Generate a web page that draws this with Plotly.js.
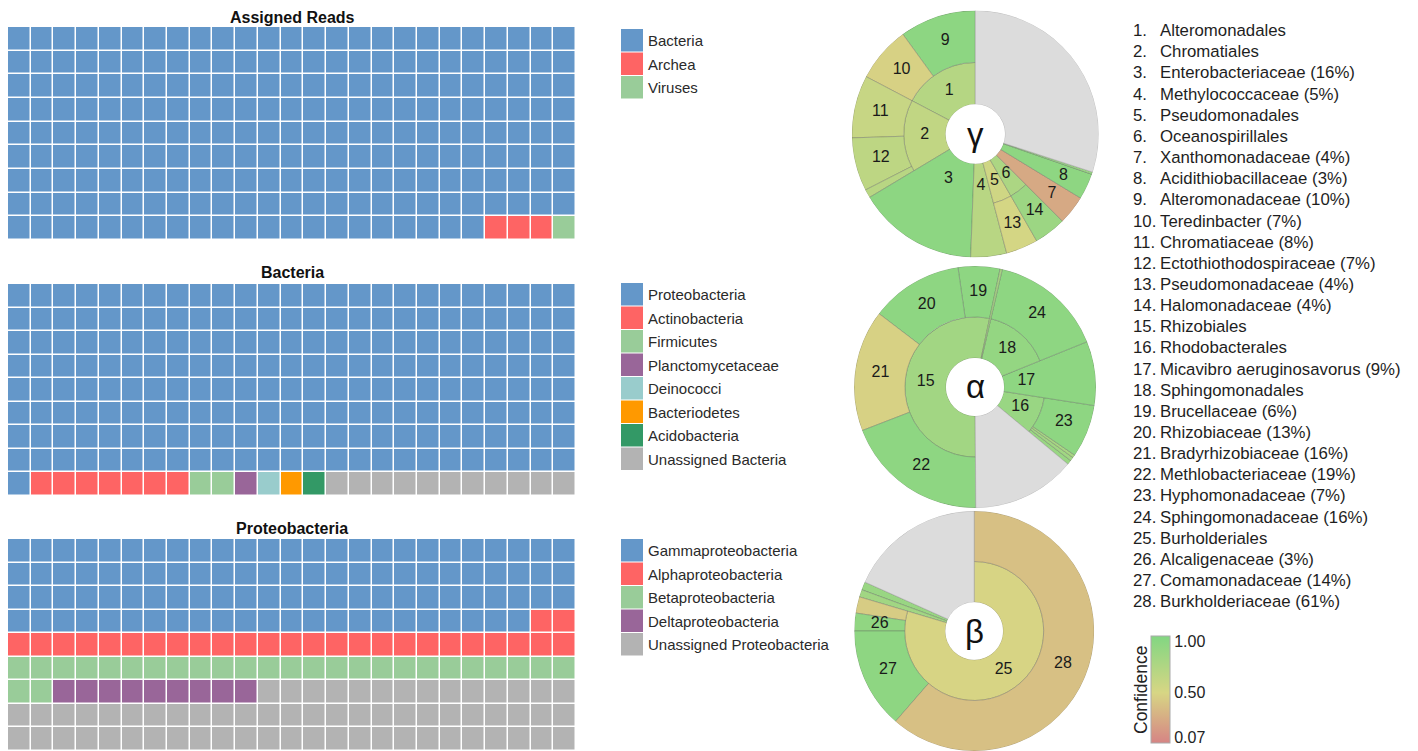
<!DOCTYPE html>
<html><head><meta charset="utf-8">
<script src="https://cdn.plot.ly/plotly-3.0.1.min.js"></script>
<style>html,body{margin:0;padding:0;background:#fff;overflow:hidden}#chart{width:1418px;height:751px}</style>
</head><body><div id="chart"></div>
<script>
// ---------------- DATA ----------------
const GRID_COLS = 25, GRID_ROWS = 9;

const readsCategories = ['Bacteria', 'Archea', 'Viruses'];
const readsCounts = [221, 3, 1];
const readsColors = ['#6497c9', '#fe6464', '#99cc99'];

const bacteriaCategories = ['Proteobacteria', 'Actinobacteria', 'Firmicutes', 'Planctomycetaceae', 'Deinococci', 'Bacteriodetes', 'Acidobacteria', 'Unassigned Bacteria'];
const bacteriaCounts = [201, 7, 2, 1, 1, 1, 1, 11];
const bacteriaColors = ['#6497c9', '#fe6464', '#99cc99', '#996699', '#99cccc', '#ff9900', '#339966', '#b3b3b3'];

const proteoCategories = ['Gammaproteobacteria', 'Alphaproteobacteria', 'Betaproteobacteria', 'Deltaproteobacteria', 'Unassigned Proteobacteria'];
const proteoCounts = [98, 27, 27, 9, 64];
const proteoColors = ['#6497c9', '#fe6464', '#99cc99', '#996699', '#b3b3b3'];

// Sunbursts (values in % of class, listed counter-clockwise)
const gammaLabels     = ['1', '9', '10', '2', '11', '12', '2-other', '3', '4', '5', '13', '6', '14', '7', '8', '8-other', 'Unassigned'];
const gammaParents    = ['', '1', '1', '', '2', '2', '2', '', '', '', '5', '', '6', '', '', '', ''];
const gammaValues     = [0, 10, 7.3, 0, 8.2, 7.0, 1.1, 15.8, 4.7, 0, 4.2, 0, 4.2, 3.8, 3.4, 0.3, 30];
const gammaConfidence = [0.72, 0.98, 0.47, 0.64, 0.6, 0.67, 0.7, 0.98, 0.7, 0.55, 0.52, 0.78, 0.88, 0.23, 0.97, 0.9, null];

const alphaLabels     = ['15', '19', '20', '21', '22', 'Unassigned', '16', '16-a', '16-b', '16-c', '23', '17', '18', '24', '18-other'];
const alphaParents    = ['', '15', '15', '15', '15', '', '', '16', '16', '16', '16', '', '', '18', ''];
const alphaValues     = [0, 5.6, 12.4, 16.3, 19.3, 13.9, 0, 0.6, 0.5, 0.4, 7.1, 8.6, 0, 15.3, 0.3];
const alphaConfidence = [0.84, 0.97, 0.97, 0.47, 0.97, null, 0.9, 0.9, 0.85, 0.8, 0.97, 0.97, 0.93, 0.97, 0.8];

const betaLabels     = ['Unassigned', 'b-1', 'b-2', '25', '25-other', '26', '27', '28'];
const betaParents    = ['', '', '', '', '25', '25', '25', '25'];
const betaValues     = [18.3, 1.1, 1.0, 0, 2.2, 2.4, 13.6, 61.4];
const betaConfidence = [null, 0.9, 0.85, 0.49, 0.44, 0.95, 0.97, 0.37];

const listNames = ['Alteromonadales', 'Chromatiales', 'Enterobacteriaceae (16%)', 'Methylococcaceae (5%)', 'Pseudomonadales',
  'Oceanospirillales', 'Xanthomonadaceae (4%)', 'Acidithiobacillaceae (3%)', 'Alteromonadaceae (10%)', 'Teredinbacter (7%)',
  'Chromatiaceae (8%)', 'Ectothiothodospiraceae (7%)', 'Pseudomonadaceae (4%)', 'Halomonadaceae (4%)', 'Rhizobiales',
  'Rhodobacterales', 'Micavibro aeruginosavorus (9%)', 'Sphingomonadales', 'Brucellaceae (6%)', 'Rhizobiaceae (13%)',
  'Bradyrhizobiaceae (16%)', 'Methlobacteriaceae (19%)', 'Hyphomonadaceae (7%)', 'Sphingomonadaceae (16%)', 'Burholderiales',
  'Alcaligenaceae (3%)', 'Comamonadaceae (14%)', 'Burkholderiaceae (61%)'];

const confTicks = [0.07, 0.5, 1.0];
const confTickText = ['0.07', '0.50', '1.00'];

// ---------------- LAYOUT HELPERS ----------------
const W = 1418, H = 751;
const FONT = 'Liberation Sans, Arial, Helvetica, sans-serif';
const px = x => x / W;
const py = y => 1 - y / H;
const clamp = v => Math.max(0, Math.min(1, v));

const traces = [];
const annotations = [];
const shapes = [];
const layout = {
  width: W, height: H, margin: {l: 0, r: 0, t: 0, b: 0},
  paper_bgcolor: '#fff', plot_bgcolor: '#fff', showlegend: false,
  font: {family: FONT, color: '#222'}
};

// ---------- Waffle charts ----------
function waffleZ(counts) {
  const z = []; let cat = 0, used = 0;
  for (let r = 0; r < GRID_ROWS; r++) {
    const row = [];
    for (let c = 0; c < GRID_COLS; c++) {
      while (cat < counts.length - 1 && used >= counts[cat]) { cat++; used = 0; }
      row.push(cat); used++;
    }
    z.push(row);
  }
  return z;
}
const waffles = [
  {title: 'Assigned Reads', cats: readsCategories, counts: readsCounts, colors: readsColors, top: 27, bottom: 240, titleY: 18, legTop: 29},
  {title: 'Bacteria', cats: bacteriaCategories, counts: bacteriaCounts, colors: bacteriaColors, top: 284, bottom: 496, titleY: 272, legTop: 283},
  {title: 'Proteobacteria', cats: proteoCategories, counts: proteoCounts, colors: proteoColors, top: 539, bottom: 751, titleY: 528, legTop: 539}
];
waffles.forEach((w, i) => {
  const sfx = i === 0 ? '' : String(i + 1);
  const n = w.colors.length;
  const cs = w.colors.map((c, k) => [k / (n - 1), c]);
  traces.push({
    type: 'heatmap', z: waffleZ(w.counts), xaxis: 'x' + sfx, yaxis: 'y' + sfx,
    zmin: 0, zmax: n - 1, colorscale: cs, showscale: false, xgap: 1.5, ygap: 1.5, hoverinfo: 'skip'
  });
  layout['xaxis' + sfx] = {domain: [px(8), px(576)], range: [-0.5, GRID_COLS - 0.5], visible: false, fixedrange: true};
  layout['yaxis' + sfx] = {domain: [clamp(py(w.bottom)), clamp(py(w.top))], range: [GRID_ROWS - 0.5, -0.5], visible: false, fixedrange: true};
  annotations.push({text: '<b>' + w.title + '</b>', x: px(292), y: py(w.titleY), xref: 'paper', yref: 'paper',
    xanchor: 'center', yanchor: 'middle', showarrow: false, font: {size: 16, color: '#111', family: FONT}});
  // legend swatches
  const itemH = 23.5;
  w.cats.forEach((c, k) => {
    const y0 = w.legTop + k * itemH;
    shapes.push({type: 'rect', xref: 'paper', yref: 'paper', x0: px(621), x1: px(643), y0: py(y0 + itemH - 1), y1: py(y0),
      fillcolor: w.colors[k], line: {width: 0}});
    annotations.push({text: c, x: px(646), y: py(y0 + itemH / 2), xref: 'paper', yref: 'paper', xanchor: 'left', yanchor: 'middle',
      showarrow: false, font: {size: 15, color: '#2a2a2a', family: FONT}});
  });
});

// ---------- Sunbursts (barpolar rings) ----------
const CMIN = 0.012, CMAX = 1.048;
const norm = v => (v - CMIN) / (CMAX - CMIN);
layout.coloraxis = {
  cmin: CMIN, cmax: CMAX,
  colorscale: [[0, 'rgb(214,132,132)'], [norm(0.5), 'rgb(215,214,132)'], [1, 'rgb(130,214,130)']],
  colorbar: {
    x: px(1151), xanchor: 'left', y: py(689.5), yanchor: 'middle', len: 107, lenmode: 'pixels',
    thickness: 19, thicknessmode: 'pixels', xpad: 0, ypad: 0, outlinewidth: 1, outlinecolor: '#aaa',
    tickvals: confTicks, ticktext: confTickText, ticks: '', tickfont: {size: 16, color: '#222', family: FONT}
  }
};
const INNER = 1, R_MAX = 2.24, HOLE = 0.24;
const LINE = {color: 'rgba(90,90,90,0.45)', width: 0.7};

function ring(labels, parents, values, conf, polarId) {
  const total = {};
  labels.forEach((l, i) => { total[l] = values[i]; });
  labels.forEach((l, i) => { if (parents[i]) total[parents[i]] += values[i]; });
  let grand = 0;
  labels.forEach((l, i) => { if (!parents[i]) grand += total[l]; });
  const k = 360 / grand;
  const col = {theta: [], width: [], r: [], base: [], c: [], name: []};
  const gray = {theta: [], width: [], r: [], base: []};
  const lab = {theta: [], r: [], text: []};
  const childCursor = {};
  let cursor = 0;
  labels.forEach((l, i) => {
    const hasKids = parents.some(p => p === l);
    let start, wdt, base, r;
    if (!parents[i]) {
      start = cursor; wdt = total[l] * k; cursor += wdt; childCursor[l] = start;
      base = 0; r = hasKids ? INNER : R_MAX;
    } else {
      start = childCursor[parents[i]]; wdt = total[l] * k; childCursor[parents[i]] += wdt;
      base = INNER; r = R_MAX - INNER;
    }
    const mid = start + wdt / 2;
    if (conf[i] === null) {
      gray.theta.push(mid); gray.width.push(wdt); gray.r.push(r); gray.base.push(base);
    } else {
      col.theta.push(mid); col.width.push(wdt); col.r.push(r); col.base.push(base); col.c.push(conf[i]); col.name.push(l);
    }
    if (/^\d+$/.test(l)) {
      let lr;
      if (parents[i]) lr = INNER + (R_MAX - INNER) / 2;
      else if (hasKids) lr = INNER / 2;
      else lr = values[i] >= 4.5 ? 0.55 : INNER + (R_MAX - INNER) / 2;
      lab.theta.push(mid); lab.r.push(lr); lab.text.push(l);
    }
  });
  traces.push({type: 'barpolar', subplot: polarId, theta: col.theta, width: col.width, r: col.r, base: col.base,
    text: col.name, hoverinfo: 'text',
    marker: {color: col.c, coloraxis: 'coloraxis', line: LINE}});
  traces.push({type: 'barpolar', subplot: polarId, theta: gray.theta, width: gray.width, r: gray.r, base: gray.base,
    hoverinfo: 'skip', marker: {color: '#dcdcdc', line: {color: 'rgba(150,150,150,0.6)', width: 0.7}}});
  traces.push({type: 'scatterpolar', subplot: polarId, mode: 'text', theta: lab.theta, r: lab.r, text: lab.text,
    textfont: {size: 16, color: '#1a1a1a', family: FONT}, hoverinfo: 'skip', cliponaxis: false});
}

const suns = [
  {id: 'polar', labels: gammaLabels, parents: gammaParents, values: gammaValues, conf: gammaConfidence, cx: 975.3, cy: 134, rad: 123.5, rot: 90, sym: 'γ'},
  {id: 'polar2', labels: alphaLabels, parents: alphaParents, values: alphaValues, conf: alphaConfidence, cx: 975, cy: 387, rad: 121, rot: 78, sym: 'α'},
  {id: 'polar3', labels: betaLabels, parents: betaParents, values: betaValues, conf: betaConfidence, cx: 974.2, cy: 631, rad: 120, rot: 90, sym: 'β'}
];
suns.forEach(s => {
  ring(s.labels, s.parents, s.values, s.conf, s.id);
  layout[s.id] = {
    domain: {x: [px(s.cx - s.rad), px(s.cx + s.rad)], y: [clamp(py(s.cy + s.rad)), clamp(py(s.cy - s.rad))]},
    hole: HOLE, bgcolor: 'rgba(0,0,0,0)', bargap: 0, barmode: 'overlay',
    radialaxis: {visible: false, range: [0, R_MAX]},
    angularaxis: {visible: false, rotation: s.rot, direction: 'counterclockwise'}
  };
  annotations.push({text: s.sym, x: px(s.cx), y: py(s.cy), xref: 'paper', yref: 'paper', xanchor: 'center', yanchor: 'middle',
    showarrow: false, font: {size: 33, color: '#111', family: FONT}});
});

// colorbar title
annotations.push({text: 'Confidence', x: px(1141), y: py(690), xref: 'paper', yref: 'paper', xanchor: 'center', yanchor: 'middle',
  textangle: -90, showarrow: false, font: {size: 17.5, color: '#222', family: FONT}});

// ---------- Numbered list ----------
listNames.forEach((nm, i) => {
  const y = py(30.7 + i * 21.15);
  annotations.push({text: (i + 1) + '.', x: px(1131), y: y, xref: 'paper', yref: 'paper', xanchor: 'left', yanchor: 'middle',
    showarrow: false, font: {size: 16.8, color: '#1e1e1e', family: FONT}});
  annotations.push({text: nm, x: px(1157.5), y: y, xref: 'paper', yref: 'paper', xanchor: 'left', yanchor: 'middle',
    showarrow: false, font: {size: 16.8, color: '#1e1e1e', family: FONT}});
});

layout.annotations = annotations;
layout.shapes = shapes;

Plotly.newPlot('chart', traces, layout, {staticPlot: true, displayModeBar: false});
</script>
</body></html>
